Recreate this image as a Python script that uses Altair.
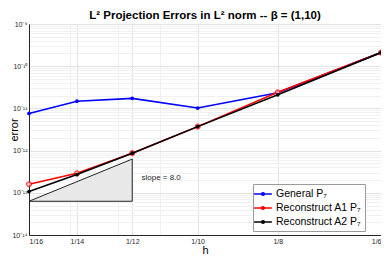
import altair as alt
import pandas as pd

# ---- data ----
h_denoms = [16, 14, 12, 10, 8, 6]
general_p7 = [7.6e-12, 1.48e-11, 1.73e-11, 1.02e-11, 2.35e-11, 2.1e-10]
recon_a1_p7 = [1.6e-13, 2.9e-13, 8.7e-13, 3.7e-12, 2.4e-11, 2.1e-10]
recon_a2_p7 = [1.07e-13, 2.7e-13, 8.7e-13, 3.7e-12, 2.1e-11, 2.1e-10]
series_names = ["General P\u2087", "Reconstruct A1 P\u2087", "Reconstruct A2 P\u2087"]
series_colors = ["#0000ff", "#ff0000", "#000000"]

# slope triangle (slope 8 between h=1/16 and h=1/12)
tri_h = [1 / 16, 1 / 12, 1 / 12, 1 / 16]
tri_e = [6.3e-14, 6.3e-14, 6.3e-13, 6.3e-14]
slope_label = "slope = 8.0"
slope_label_pos = (0.0855, 2.3e-13)

x_tick_values = [1 / 16, 0.07, 1 / 14, 0.08, 1 / 12, 0.09, 0.1, 1 / 8, 1 / 6]
y_exps = [-14, -13, -12, -11, -10, -9]

sup = {"-": "\u207b", "0": "\u2070", "1": "\u00b9", "2": "\u00b2", "3": "\u00b3",
       "4": "\u2074", "5": "\u2075", "6": "\u2076", "7": "\u2077", "8": "\u2078", "9": "\u2079"}


def sup_str(n):
    return "".join(sup[c] for c in str(n))


y_tick_values = []
for k in y_exps[:-1]:
    for m in range(1, 10):
        y_tick_values.append(float(f"{m}e{k}"))
y_tick_values.append(1e-9)

major_y = [float(f"1e{k}") for k in y_exps]
y_label_expr = " : ".join(
    f"datum.value == {float(f'1e{k}')!r} ? '10{sup_str(k)}'" for k in y_exps
) + " : ''"
y_grid_test = " || ".join(f"datum.value == {v!r}" for v in major_y)

x_label_expr = ("abs(1/datum.value - round(1/datum.value)) < 0.01 ? "
                "'1/' + round(1/datum.value) : ''")

rows = []
for name, vals in zip(series_names, [general_p7, recon_a1_p7, recon_a2_p7]):
    for d, v in zip(h_denoms, vals):
        rows.append({"h": 1 / d, "err": v, "series": name})
df = pd.DataFrame(rows)

tri_df = pd.DataFrame({"h": tri_h, "e": tri_e, "o": list(range(len(tri_h)))})
area_df = pd.DataFrame({"h": [1 / 16, 1 / 12], "top": [6.3e-14, 6.3e-13], "base": [6.3e-14, 6.3e-14]})
text_df = pd.DataFrame({"h": [slope_label_pos[0]], "e": [slope_label_pos[1]], "t": [slope_label]})

PLOT_H = 211

xscale = alt.Scale(type="log", domain=[1 / 16, 1 / 6], nice=False)
yscale = alt.Scale(type="log", domain=[1e-14, 1e-9], nice=False)
cscale = alt.Scale(domain=series_names, range=series_colors)

xaxis = alt.Axis(values=x_tick_values, labelExpr=x_label_expr, title="h",
                 grid=True, gridColor={"condition": {"test": "abs(1/datum.value - round(1/datum.value)) < 0.01", "value": "#e3e3e3"}, "value": "#efefef"},
                 ticks=False, labelFontSize=7, labelPadding=2, titleFontSize=11,
                 titlePadding=0, titleFontWeight="normal", labelFlush=True,
                 domainColor="#262626", labelColor="#262626", titleColor="#000000")
yaxis = alt.Axis(values=y_tick_values, labelExpr=y_label_expr, title="error",
                 grid=True, gridColor={"condition": {"test": y_grid_test, "value": "#e3e3e3"}, "value": "#f1f1f1"},
                 ticks=False, labelFontSize=7, labelPadding=2, titleFontSize=11,
                 titleFontWeight="normal", titleX=-21, titleY=PLOT_H / 2, titleAngle=-90,
                 titleBaseline="top", titleAlign="center", labelFlush=False,
                 domainColor="#262626", labelColor="#262626", titleColor="#000000")

X = alt.X("h:Q", scale=xscale, axis=xaxis)
Y = alt.Y("err:Q", scale=yscale, axis=yaxis)

tri_area = alt.Chart(area_df).mark_area(color="#e8e8e8", opacity=1).encode(
    x=alt.X("h:Q", scale=xscale), y=alt.Y("top:Q", scale=yscale), y2="base:Q")
tri_line = alt.Chart(tri_df).mark_line(color="#222222", strokeWidth=1).encode(
    x=alt.X("h:Q", scale=xscale), y=alt.Y("e:Q", scale=yscale), order="o:Q")
slope_text = alt.Chart(text_df).mark_text(align="left", baseline="middle", fontSize=8,
                                          color="#262626").encode(
    x=alt.X("h:Q", scale=xscale), y=alt.Y("e:Q", scale=yscale), text="t:N")

legend = alt.Legend(title=None, orient="none", legendX=224, legendY=160,
                    fillColor="#ffffff", strokeColor="#9a9a9a", padding=3,
                    labelFontSize=10.5, labelColor="#000000", rowPadding=1,
                    symbolType="M-1.5,0L1.5,0M-0.22,0A0.22,0.22,0,1,0,0.22,0A0.22,0.22,0,1,0,-0.22,0",
                    symbolSize=140, symbolStrokeWidth=1.6, labelOffset=6,
                    labelLimit=200)

layers = [tri_area, tri_line, slope_text]
for i, name in enumerate(series_names):
    sub = df[df.series == name]
    line = alt.Chart(sub).mark_line(strokeWidth=1.6).encode(
        x=X, y=Y, color=alt.Color("series:N", scale=cscale, legend=legend))
    if i == 1:
        pts = alt.Chart(sub).mark_point(filled=False, size=22, strokeWidth=1.4, fill="#ffe0e0").encode(
            x=X, y=Y, color=alt.Color("series:N", scale=cscale, legend=legend))
    else:
        pts = alt.Chart(sub).mark_point(filled=True, size=14, opacity=1).encode(
            x=X, y=Y, color=alt.Color("series:N", scale=cscale, legend=legend))
    layers += [line, pts]

chart = alt.layer(*layers).properties(
    width=352, height=PLOT_H,
    title=alt.Title("L\u00b2 Projection Errors in L\u00b2 norm -- \u03b2 = (1,10)",
                    fontSize=11.5, fontWeight="bold", offset=0, dy=1, anchor="middle",
                    color="#000000"),
    autosize=alt.AutoSizeParams(type="none"),
    padding={"left": 21, "top": 16, "right": 0, "bottom": 19},
).configure(font="Liberation Sans").configure_view(stroke="#262626", strokeWidth=1)

chart.save("out.html", embed_options={"renderer": "svg", "actions": False})
